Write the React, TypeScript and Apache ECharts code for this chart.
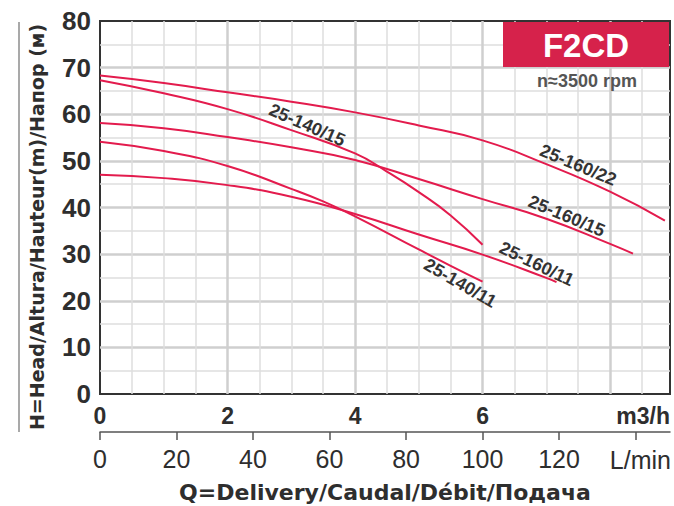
import React, { useEffect, useRef } from "react";
import * as echarts from "echarts";

// Flow (m3/h) and head (m) for each pump curve
const curveNames = ["25-160/22", "25-140/15", "25-160/15", "25-140/11", "25-160/11"];
const q22 = [0, 1, 2, 3, 4, 5, 6, 7, 8, 8.86];
const h22 = [68.3, 66.7, 64.7, 62.7, 60.4, 57.6, 54.4, 49.3, 43.4, 37.2];
const q140_15 = [0, 1, 2, 3, 4, 4.5, 5, 5.5, 6];
const h140_15 = [67.3, 64.5, 61.1, 56.6, 51.6, 47.7, 43.3, 38.3, 32];
const q160_15 = [0, 1, 2, 3, 4, 5, 6, 7, 8, 8.36];
const h160_15 = [58.1, 57, 55.1, 52.9, 50.2, 46.1, 41.8, 37.6, 32.2, 30.1];
const q140_11 = [0, 1, 2, 3, 3.5, 4, 5, 5.5, 6];
const h140_11 = [54.1, 52.1, 48.9, 44.0, 41.3, 38.1, 31.0, 27.5, 24.1];
const q160_11 = [0, 1, 2, 3, 4, 5, 6, 7, 7.16];
const h160_11 = [47, 46.3, 44.8, 42.3, 38.6, 34.2, 29.9, 24.9, 24.0];

// Curve label anchors (in data units) and angles
const labelQ = [7.5, 3.25, 7.32, 5.65, 6.85];
const labelH = [49.1, 57.7, 38.2, 23.8, 27.9];
const labelAngle = [-22.6, -23.6, -22.6, -30, -25.7];

// Axes
const X_MAX = 8.94; // m3/h
const mhLabels = [0, 2, 4, 6];
const lminLabels = [0, 20, 40, 60, 80, 100, 120];
const lminTicks = [0, 20, 40, 60, 80, 100, 120, 140];

const LIB = "'Liberation Sans', Arial, sans-serif";
const NARROW = "'Liberation Sans Narrow', 'Liberation Sans', sans-serif";
const DEJAVU = "'DejaVu Sans', sans-serif";
const RED = "#e31b4d";
const TXT = "#2e2e2e";

const curveQ = [q22, q140_15, q160_15, q140_11, q160_11];
const curveH = [h22, h140_15, h160_15, h140_11, h160_11];

export default function App() {
  const ref = useRef<HTMLDivElement>(null);
  useEffect(() => {
    document.body.style.margin = "0";
    if (!ref.current) return;
    const chart = echarts.init(ref.current, undefined, { renderer: "svg" });
    const series = curveNames.map((name, i) => ({
      name,
      type: "line",
      xAxisIndex: 0,
      yAxisIndex: 0,
      data: curveQ[i].map((q, j) => [q, curveH[i][j]]),
      showSymbol: false,
      smooth: 0.5,
      lineStyle: { color: RED, width: 2 },
      z: 3,
      markPoint: {
        symbol: "circle",
        symbolSize: 1,
        itemStyle: { color: "rgba(0,0,0,0)" },
        data: [{ coord: [labelQ[i], labelH[i]], value: name }],
        label: {
          show: true,
          position: "inside",
          formatter: name,
          rotate: labelAngle[i],
          fontFamily: LIB,
          fontWeight: "bold",
          fontSize: 18,
          color: "#333",
        },
      },
    }));
    chart.setOption({
      animation: false,
      grid: {
        left: 100,
        top: 21,
        right: 4,
        bottom: 112,
        show: true,
        borderColor: "#333",
        borderWidth: 2,
        backgroundColor: "#fff",
      },
      xAxis: [
        {
          type: "value",
          min: 0,
          max: X_MAX,
          interval: 2,
          position: "bottom",
          axisLine: { show: false },
          axisTick: { show: false },
          axisLabel: {
            customValues: mhLabels,
            fontFamily: LIB,
            fontWeight: "bold",
            fontSize: 23,
            color: TXT,
            margin: 10,
          },
          splitLine: {
            show: true,
            showMinLine: false,
            showMaxLine: false,
            lineStyle: { color: "#cfcfcf", width: 2.5 },
          },
          minorTick: { show: false, splitNumber: 4 },
          minorSplitLine: { show: true, lineStyle: { color: "#dedede", width: 1.5 } },
        },
        {
          type: "value",
          min: 0,
          max: (X_MAX * 1000) / 60,
          interval: 20,
          position: "bottom",
          offset: 38,
          axisLine: { show: true, lineStyle: { color: "#555", width: 1.5 } },
          axisTick: {
            show: true,
            inside: false,
            length: 8,
            customValues: lminTicks,
            lineStyle: { color: "#555", width: 1.5 },
          },
          axisLabel: {
            customValues: lminLabels,
            fontFamily: NARROW,
            fontSize: 25,
            color: TXT,
            margin: 14,
          },
          splitLine: { show: false },
        },
      ],
      yAxis: {
        type: "value",
        min: 0,
        max: 80,
        interval: 10,
        axisLine: { show: false },
        axisTick: { show: false },
        axisLabel: {
          fontFamily: LIB,
          fontWeight: "bold",
          fontSize: 26,
          color: TXT,
          margin: 9,
        },
        splitLine: {
          show: true,
          showMinLine: false,
          showMaxLine: false,
          lineStyle: { color: "#cfcfcf", width: 2.5 },
        },
        minorTick: { show: false, splitNumber: 2 },
        minorSplitLine: { show: true, lineStyle: { color: "#dedede", width: 1.5 } },
      },
      graphic: [
        {
          type: "line",
          shape: { x1: 19, y1: 22, x2: 19, y2: 432 },
          style: { stroke: "#8c8c8c", lineWidth: 1.5 },
        },
        {
          type: "text",
          x: 37,
          y: 227,
          rotation: Math.PI / 2,
          style: {
            text: "H=Head/Altura/Hauteur(m)/Напор (м)",
            fontFamily: DEJAVU,
            fontWeight: "bold",
            fontSize: 19,
            fill: TXT,
            align: "center",
            verticalAlign: "middle",
          },
        },
        {
          type: "text",
          x: 385,
          y: 492,
          style: {
            text: "Q=Delivery/Caudal/Débit/Подача",
            fontFamily: DEJAVU,
            fontWeight: "bold",
            fontSize: 22,
            fill: TXT,
            align: "center",
            verticalAlign: "middle",
          },
        },
        {
          type: "text",
          x: 670,
          y: 416,
          style: {
            text: "m3/h",
            fontFamily: LIB,
            fontWeight: "bold",
            fontSize: 23,
            fill: TXT,
            align: "right",
            verticalAlign: "middle",
          },
        },
        {
          type: "text",
          x: 671,
          y: 460,
          style: {
            text: "L/min",
            fontFamily: NARROW,
            fontSize: 25,
            fill: TXT,
            align: "right",
            verticalAlign: "middle",
          },
        },
        {
          type: "rect",
          shape: { x: 503, y: 22, width: 166, height: 45 },
          style: { fill: "#d6224b" },
          z: 10,
        },
        {
          type: "text",
          x: 586,
          y: 45,
          z: 11,
          style: {
            text: "F2CD",
            fontFamily: LIB,
            fontWeight: "bold",
            fontSize: 33,
            fill: "#fff",
            align: "center",
            verticalAlign: "middle",
          },
        },
        {
          type: "text",
          x: 587,
          y: 81,
          z: 11,
          style: {
            text: "n≈3500 rpm",
            fontFamily: LIB,
            fontWeight: "bold",
            fontSize: 18,
            fill: "#555",
            align: "center",
            verticalAlign: "middle",
          },
        },
      ],
      series,
    });
    return () => chart.dispose();
  }, []);
  return <div ref={ref} style={{ width: 674, height: 506 }} />;
}
